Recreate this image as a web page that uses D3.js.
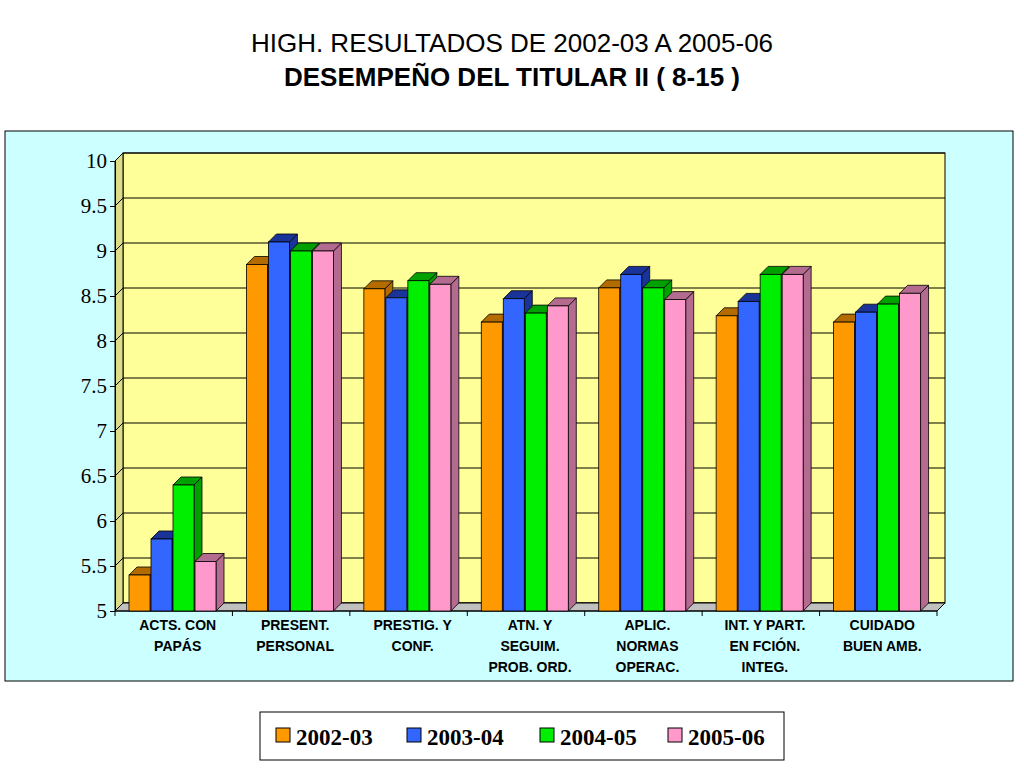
<!DOCTYPE html><html><head><meta charset="utf-8"><script src="https://cdn.jsdelivr.net/npm/d3@7"></script>
<style>body{margin:0;background:#fff}</style></head><body><svg id="c" width="1024" height="768"></svg>
<script>
const categories=[["ACTS. CON","PAPÁS"],["PRESENT.","PERSONAL"],["PRESTIG. Y","CONF."],["ATN. Y","SEGUIM.","PROB. ORD."],["APLIC.","NORMAS","OPERAC."],["INT. Y PART.","EN FCIÓN.","INTEG."],["CUIDADO","BUEN AMB."]];
const seriesNames=["2002-03","2003-04","2004-05","2005-06"];
const s1=[5.4,8.85,8.58,8.21,8.59,8.28,8.21];
const s2=[5.8,9.1,8.48,8.47,8.74,8.44,8.32];
const s3=[6.4,9.0,8.67,8.31,8.59,8.74,8.41];
const s4=[5.55,9.0,8.63,8.39,8.46,8.74,8.53];
const values=[s1,s2,s3,s4];
const yTicks=[5,5.5,6,6.5,7,7.5,8,8.5,9,9.5,10];
const colors=["#ff9900","#3366ff","#00ee00","#ff99cc"];
const dark=["#b36b00","#1a3399","#00a000","#b36b8f"];
const svg=d3.select("#c");
svg.append("text").attr("x",512).attr("y",52).attr("text-anchor","middle").attr("font-family","Arial").attr("font-size",26).text("HIGH. RESULTADOS DE 2002-03 A 2005-06");
svg.append("text").attr("x",512).attr("y",86).attr("text-anchor","middle").attr("font-family","Arial").attr("font-weight","bold").attr("font-size",26).text("DESEMPEÑO DEL TITULAR II ( 8-15 )");
svg.append("rect").attr("x",5).attr("y",131).attr("width",1008).attr("height",550).attr("fill","#ccffff").attr("stroke","#000");
const dx=8,dy=8;
const y=d3.scaleLinear().domain([5,10]).range([611,161]);
const x0=d3.scaleBand().domain(d3.range(7)).range([115,937]);
const x1=d3.scaleBand().domain(d3.range(4)).range([0,88]);
// back wall
svg.append("rect").attr("x",115+dx).attr("y",y(10)-dy).attr("width",822).attr("height",y(5)-y(10)).attr("fill","#ffff99").attr("stroke","#000");
// side wall
svg.append("path").attr("d",`M115,${y(10)}L${115+dx},${y(10)-dy}L${115+dx},${y(5)-dy}L115,${y(5)}Z`).attr("fill","#dddd88").attr("stroke","#000");
yTicks.forEach(t=>{
 svg.append("line").attr("x1",115+dx).attr("x2",937+dx).attr("y1",y(t)-dy).attr("y2",y(t)-dy).attr("stroke","#000");
 svg.append("line").attr("x1",115).attr("x2",115+dx).attr("y1",y(t)).attr("y2",y(t)-dy).attr("stroke","#000");
});
// floor
svg.append("path").attr("d",`M115,${y(5)}L${115+dx},${y(5)-dy}L${937+dx},${y(5)-dy}L937,${y(5)}Z`).attr("fill","#c0c0c0").attr("stroke","#000");
const ax=svg.append("g").attr("transform","translate(115,0)").call(d3.axisLeft(y).tickValues(yTicks).tickSize(5).tickFormat(d3.format("")));
ax.selectAll("text").attr("font-family","Times New Roman, Liberation Serif").attr("font-size",21).attr("fill","#000");
ax.select(".domain").attr("stroke","#000");
ax.selectAll(".tick line").attr("stroke","#000");
d3.range(8).forEach(i=>{const xx=i<7?x0(i):937;svg.append("line").attr("x1",xx).attr("x2",xx).attr("y1",y(5)).attr("y2",y(5)+5).attr("stroke","#000");});
svg.append("line").attr("x1",115).attr("x2",937).attr("y1",y(5)).attr("y2",y(5)).attr("stroke","#000");
const bw=x1.bandwidth()-1;
values.forEach((ser,si)=>ser.forEach((v,ci)=>{
 const bx=x0(ci)+14+x1(si), by=y(v), b0=y(5);
 const g=svg.append("g").attr("stroke","#000").attr("stroke-width",0.8);
 g.append("path").attr("d",`M${bx+bw},${by}L${bx+bw+dx},${by-dy}L${bx+bw+dx},${b0-dy}L${bx+bw},${b0}Z`).attr("fill",dark[si]);
 g.append("path").attr("d",`M${bx},${by}L${bx+dx},${by-dy}L${bx+bw+dx},${by-dy}L${bx+bw},${by}Z`).attr("fill",dark[si]);
 g.append("rect").attr("x",bx).attr("y",by).attr("width",bw).attr("height",b0-by).attr("fill",colors[si]);
}));
categories.forEach((c,i)=>{
 const t=svg.append("text").attr("text-anchor","middle").attr("font-family","Arial").attr("font-weight","bold").attr("font-size",14);
 c.forEach((l,k)=>t.append("tspan").attr("x",x0(i)+x0.bandwidth()/2+4).attr("y",630+k*21).text(l));
});
svg.append("rect").attr("x",260).attr("y",712).attr("width",524).attr("height",48).attr("fill","#fff").attr("stroke","#000");
const lx=[276,407,540,668];
seriesNames.forEach((n,i)=>{
 svg.append("rect").attr("x",lx[i]).attr("y",728).attr("width",14).attr("height",14).attr("fill",colors[i]).attr("stroke","#000");
 svg.append("text").attr("x",lx[i]+20).attr("y",745).attr("font-family","Times New Roman, Liberation Serif").attr("font-weight","bold").attr("font-size",23).text(n);
});
</script></body></html>
